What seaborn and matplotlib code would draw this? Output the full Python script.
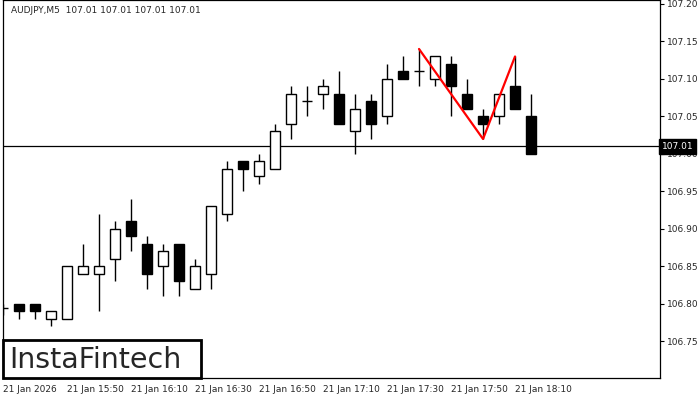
import matplotlib
matplotlib.use("Agg")
import matplotlib.pyplot as plt
import seaborn as sns
import numpy as np
import pandas as pd
from matplotlib.patches import Rectangle

opens  = [106.795,106.80,106.80,106.78,106.78,106.84,106.84,106.86,106.91,106.88,106.85,106.88,106.82,106.84,106.92,106.99,106.97,
          106.98,107.04,107.07,107.08,107.08,107.03,107.07,107.05,107.11,107.11,107.10,107.12,107.08,107.05,107.05,107.09,107.05]
closes = [106.795,106.79,106.79,106.79,106.85,106.85,106.85,106.90,106.89,106.84,106.87,106.83,106.85,106.93,106.98,106.98,106.99,
          107.03,107.08,107.07,107.09,107.04,107.06,107.04,107.10,107.10,107.11,107.13,107.09,107.06,107.04,107.08,107.06,107.00]
highs  = [106.80,106.80,106.80,106.79,106.85,106.88,106.92,106.91,106.94,106.89,106.88,106.88,106.86,106.93,106.99,106.99,107.00,
          107.04,107.09,107.09,107.10,107.11,107.08,107.08,107.12,107.13,107.14,107.13,107.13,107.10,107.06,107.08,107.13,107.08]
lows   = [106.785,106.78,106.78,106.77,106.78,106.84,106.79,106.83,106.87,106.82,106.81,106.81,106.82,106.82,106.91,106.95,106.96,
          106.98,107.02,107.05,107.06,107.04,107.00,107.02,107.04,107.10,107.09,107.09,107.05,107.06,107.02,107.04,107.06,107.00]
pattern_idx = [26, 30, 32]
pattern_px = [107.14, 107.02, 107.13]
last_price = 107.01
time_labels = ["21 Jan 2026","21 Jan 15:50","21 Jan 16:10","21 Jan 16:30","21 Jan 16:50",
               "21 Jan 17:10","21 Jan 17:30","21 Jan 17:50","21 Jan 18:10"]
price_ticks = [106.75,106.80,106.85,106.90,106.95,107.00,107.05,107.10,107.15,107.20]

df = pd.DataFrame({"i": np.arange(len(opens)), "o": opens, "c": closes, "h": highs, "l": lows})

sns.set_style("white")
plt.rcParams['font.family'] = ['DejaVu Sans']
fig = plt.figure(figsize=(7, 4), dpi=100)
ax = fig.add_axes([3/700, 22/400, 657/700, 378/400])

ax.vlines(df.i, df.l, df.h, color="black", lw=1, zorder=2)
bottom = np.minimum(df.o, df.c)
height = np.abs(df.c - df.o)
colors = ["white" if c >= o else "black" for o, c in zip(df.o, df.c)]
ax.bar(df.i, np.maximum(height, 0.0001), bottom=bottom, width=0.62, color=colors,
       edgecolor="black", linewidth=1, zorder=3)

ax.axhline(last_price, color="black", lw=0.9, zorder=1)
sns.lineplot(x=pattern_idx, y=pattern_px, ax=ax, color="red", lw=1.6, zorder=4)

ax.set_xlim(0, 41.06)
ax.set_ylim(106.7013, 107.2053)
ax.yaxis.tick_right()
ax.set_yticks(price_ticks)
ax.set_yticklabels([f"{p:.2f}" for p in price_ticks], fontsize=6.5)
ax.set_xticks(np.arange(0, 33, 4))
ax.set_xticklabels(time_labels, fontsize=6.5, ha="left")
ax.tick_params(axis="both", length=3, width=0.8, color="black", pad=2)
for s in ax.spines.values():
    s.set_color("black"); s.set_linewidth(0.9)

ax.text(0.012, 0.985, "AUDJPY,M5  107.01 107.01 107.01 107.01", transform=ax.transAxes,
        fontsize=6.5, va="top", ha="left")

ax.text(1.003, (last_price - 106.7013) / (107.2053 - 106.7013), f"{last_price:.2f}",
        transform=ax.transAxes, fontsize=6.5, color="white", va="center", ha="left",
        bbox=dict(boxstyle="square,pad=0.3", fc="black", ec="black"), clip_on=False)

fig.patches.append(Rectangle((3/700, 22/400), 198/700, 38/400, transform=fig.transFigure,
                             fc="white", ec="black", lw=2, zorder=5))
fig.text(9/700, 40/400, "InstaFintech", fontsize=20.5, va="center", ha="left", zorder=6)

fig.savefig("out.png", dpi=100)
